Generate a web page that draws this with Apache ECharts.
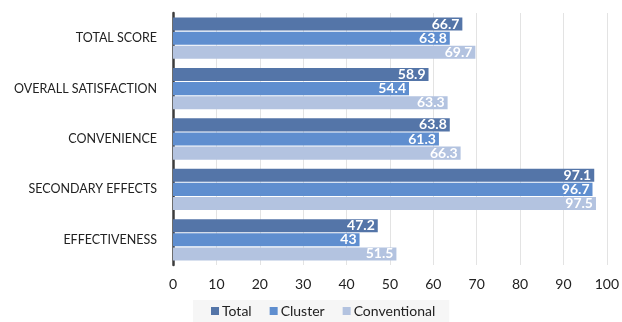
<!DOCTYPE html>
<html>
<head>
<meta charset="utf-8">
<style>
  html, body { margin: 0; padding: 0; background: #ffffff; }
  #chart { width: 622px; height: 322px; }
</style>
<script src="https://cdn.jsdelivr.net/npm/echarts@6/dist/echarts.min.js"></script>
</head>
<body>
<div id="chart"></div>
<script>
// Score categories, listed top to bottom
const categories = ['TOTAL SCORE', 'OVERALL SATISFACTION', 'CONVENIENCE', 'SECONDARY EFFECTS', 'EFFECTIVENESS'];

// Scores per group
const totalValues = [66.7, 58.9, 63.8, 97.1, 47.2];
const clusterValues = [63.8, 54.4, 61.3, 96.7, 43];
const conventionalValues = [69.7, 63.3, 66.3, 97.5, 51.5];

const seriesNames = ['Total', 'Cluster', 'Conventional'];
const seriesColors = ['#5475a8', '#5f8ecf', '#b3c3e0'];
const seriesValues = [totalValues, clusterValues, conventionalValues];

const fontFamily = 'Lato, "Open Sans", sans-serif';

const chart = echarts.init(document.getElementById('chart'), null, { renderer: 'canvas' });

chart.setOption({
  animation: false,
  backgroundColor: '#ffffff',
  grid: { left: 173, right: 14, top: 13, bottom: 57, containLabel: false },
  legend: {
    bottom: 0,
    left: 193,
    itemWidth: 8,
    itemHeight: 8,
    itemGap: 18,
    icon: 'rect',
    backgroundColor: '#f6f6f6',
    padding: [4, 14, 4, 18],
    textStyle: { fontFamily, fontSize: 14, color: '#222222', padding: [0, 0, 0, -2] },
    data: seriesNames
  },
  xAxis: {
    type: 'value',
    min: 0,
    max: 100,
    interval: 10,
    axisLine: { show: false },
    axisTick: { show: false },
    axisLabel: { fontFamily, fontSize: 14, color: '#222222', margin: 12 },
    splitLine: { show: true, lineStyle: { color: '#e3e3e3', width: 1 } }
  },
  yAxis: {
    type: 'category',
    inverse: true,
    data: categories,
    axisLine: { show: true, lineStyle: { color: '#3c3c3c', width: 2.5 } },
    axisTick: { show: false },
    axisLabel: { fontFamily, fontSize: 12.5, color: '#222222', margin: 16 }
  },
  series: seriesNames.map((name, i) => ({
    name,
    type: 'bar',
    data: seriesValues[i],
    barCategoryGap: '18%',
    barGap: '8%',
    itemStyle: { color: seriesColors[i] },
    label: {
      show: true,
      position: 'insideRight',
      distance: 3,
      color: '#ffffff',
      fontFamily,
      fontWeight: 'bold',
      fontSize: 14
    }
  }))
});
</script>
</body>
</html>
